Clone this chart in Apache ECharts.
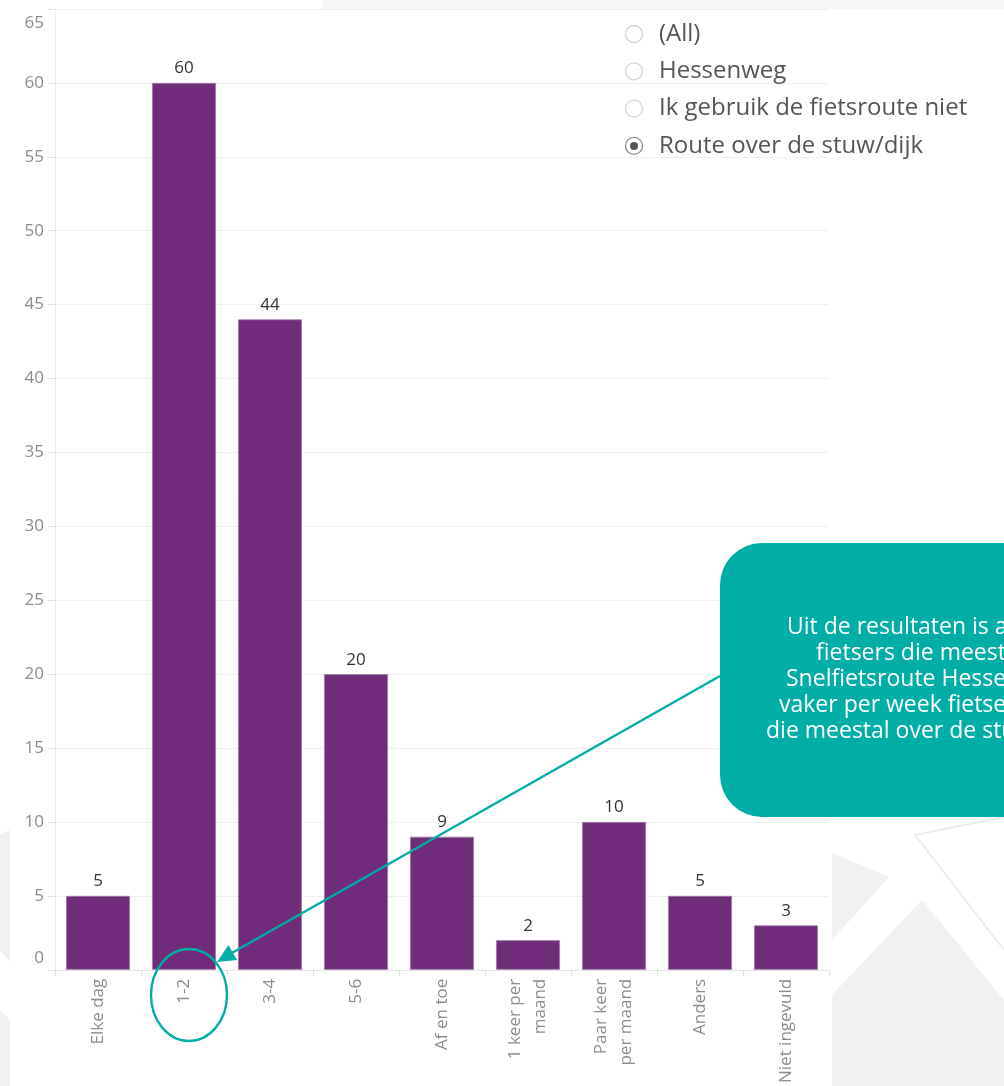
<!DOCTYPE html>
<html>
<head>
<meta charset="utf-8">
<script src="https://cdn.jsdelivr.net/npm/echarts@6/dist/echarts.min.js"></script>
<style>
html,body{margin:0;padding:0;background:#fff;}
#c{width:1004px;height:1086px;}
</style>
</head>
<body>
<div id="c"></div>
<script>
const categories = ['Elke dag', '1-2', '3-4', '5-6', 'Af en toe', '1 keer per\nmaand', 'Paar keer\nper maand', 'Anders', 'Niet ingevuld'];
const values = [5, 60, 44, 20, 9, 2, 10, 5, 3];
const yTicks = [0, 5, 10, 15, 20, 25, 30, 35, 40, 45, 50, 55, 60, 65];
const legendItems = ['(All)', 'Hessenweg', 'Ik gebruik de fietsroute niet', 'Route over de stuw/dijk'];
const selectedItem = 'Route over de stuw/dijk';
const noteLines = [
  'Uit de resultaten is af te lezen dat',
  'fietsers die meestal gebruik maken van de',
  'Snelfietsroute Hessenweg',
  'vaker per week fietsen dan fietsers',
  'die meestal over de stuw/dijk fietsen.'
];

const TEAL = '#00ada7';
const GRAY_BG = '#f1f1f1';
const chart = echarts.init(document.getElementById('c'), null, {renderer: 'canvas'});

const graphics = [];
// background decorative shapes
graphics.push({type:'rect', z:-10, shape:{x:322, y:0, width:682, height:9}, style:{fill:'#f6f6f6'}});
graphics.push({type:'polygon', z:-10, shape:{points:[[832,853],[889,877],[832,940]]}, style:{fill:GRAY_BG}});
graphics.push({type:'polygon', z:-10, shape:{points:[[832,995],[922,900],[1004,1000],[1004,1086],[832,1086]]}, style:{fill:GRAY_BG}});
graphics.push({type:'polyline', z:-10, shape:{points:[[1004,817],[915,835],[1004,950]]}, style:{stroke:'#ececec', lineWidth:2, fill:null}});
graphics.push({type:'polygon', z:-10, shape:{points:[[0,835],[10,830],[10,962],[0,950]]}, style:{fill:GRAY_BG}});
graphics.push({type:'polygon', z:-10, shape:{points:[[0,1010],[10,1020],[10,1086],[0,1086]]}, style:{fill:GRAY_BG}});

// radio legend
legendItems.forEach((t, i) => {
  const cy = 34 + i * 37.3;
  const sel = t === selectedItem;
  graphics.push({type:'circle', z:50, shape:{cx:634, cy:cy, r:8.5}, style:{fill:'#fff', stroke: sel ? '#8a8a8a' : '#d4d4d4', lineWidth:1.3}});
  if (sel) graphics.push({type:'circle', z:51, shape:{cx:634, cy:cy, r:4}, style:{fill:'#555'}});
  graphics.push({type:'text', z:50, style:{x:659, y:cy, text:t, fill:'#555', font:'24px "Open Sans"', textVerticalAlign:'middle', textAlign:'left'}});
});

// annotation callout
graphics.push({type:'rect', z:60, shape:{x:720, y:543, width:340, height:274, r:42}, style:{fill:TEAL}});
const noteStarts = [787, 816, 786, 779, 766];
noteLines.forEach((t, i) => {
  graphics.push({type:'text', z:61, style:{x:noteStarts[i], y:627 + i*26, text:t, fill:'#fff', font:'23px "Open Sans"', textVerticalAlign:'middle', textAlign:'left'}});
});
graphics.push({type:'line', z:62, shape:{x1:720, y1:676, x2:230, y2:954}, style:{stroke:TEAL, lineWidth:2.4}});
graphics.push({type:'polygon', z:62, shape:{points:[[217,962],[237,960],[228.5,945]]}, style:{fill:TEAL}});
graphics.push({type:'ellipse', z:62, shape:{cx:189, cy:995, rx:38, ry:46}, style:{fill:null, stroke:TEAL, lineWidth:2.4}});

const option = {
  backgroundColor: '#ffffff',
  animation: false,
  grid: {left: 55, right: 175, top: 9, bottom: 114, containLabel: false},
  xAxis: {
    type: 'category',
    data: categories,
    axisLine: {show: true, lineStyle: {color: '#e6e6e6', width: 1}},
    axisTick: {show: true, length: 6, lineStyle: {color: '#e0e0e0'}},
    axisLabel: {rotate: 90, color: '#8c8c8c', fontSize: 17, fontFamily: 'Open Sans', margin: 9, lineHeight: 25, interval: 0}
  },
  yAxis: {
    type: 'value',
    min: 0, max: 65, interval: 5,
    axisLine: {show: true, lineStyle: {color: '#ececec'}},
    axisTick: {show: true, length: 7, lineStyle: {color: '#e0e0e0'}},
    splitLine: {show: true, lineStyle: {color: '#efefef', width: 1}},
    axisLabel: {
      color: '#8c8c8c', fontSize: 17, fontFamily: 'Open Sans', margin: 11,
      formatter: v => v === yTicks[yTicks.length-1] ? '{top|' + v + '}' : (v === yTicks[0] ? '{bot|' + v + '}' : String(v)),
      rich: {
        top: {padding: [28, 0, 0, 0], color: '#8c8c8c', fontSize: 17, fontFamily: 'Open Sans'},
        bot: {padding: [0, 0, 24, 0], color: '#8c8c8c', fontSize: 17, fontFamily: 'Open Sans'}
      }
    }
  },
  series: [{
    type: 'bar',
    data: values,
    barWidth: 64,
    itemStyle: {color: '#702b7a', borderColor: '#a27fab', borderWidth: 0.8},
    label: {show: true, position: 'top', distance: 6, color: '#333', fontSize: 17, fontFamily: 'Open Sans'}
  }],
  graphic: {elements: graphics}
};
chart.setOption(option);
</script>
</body>
</html>
